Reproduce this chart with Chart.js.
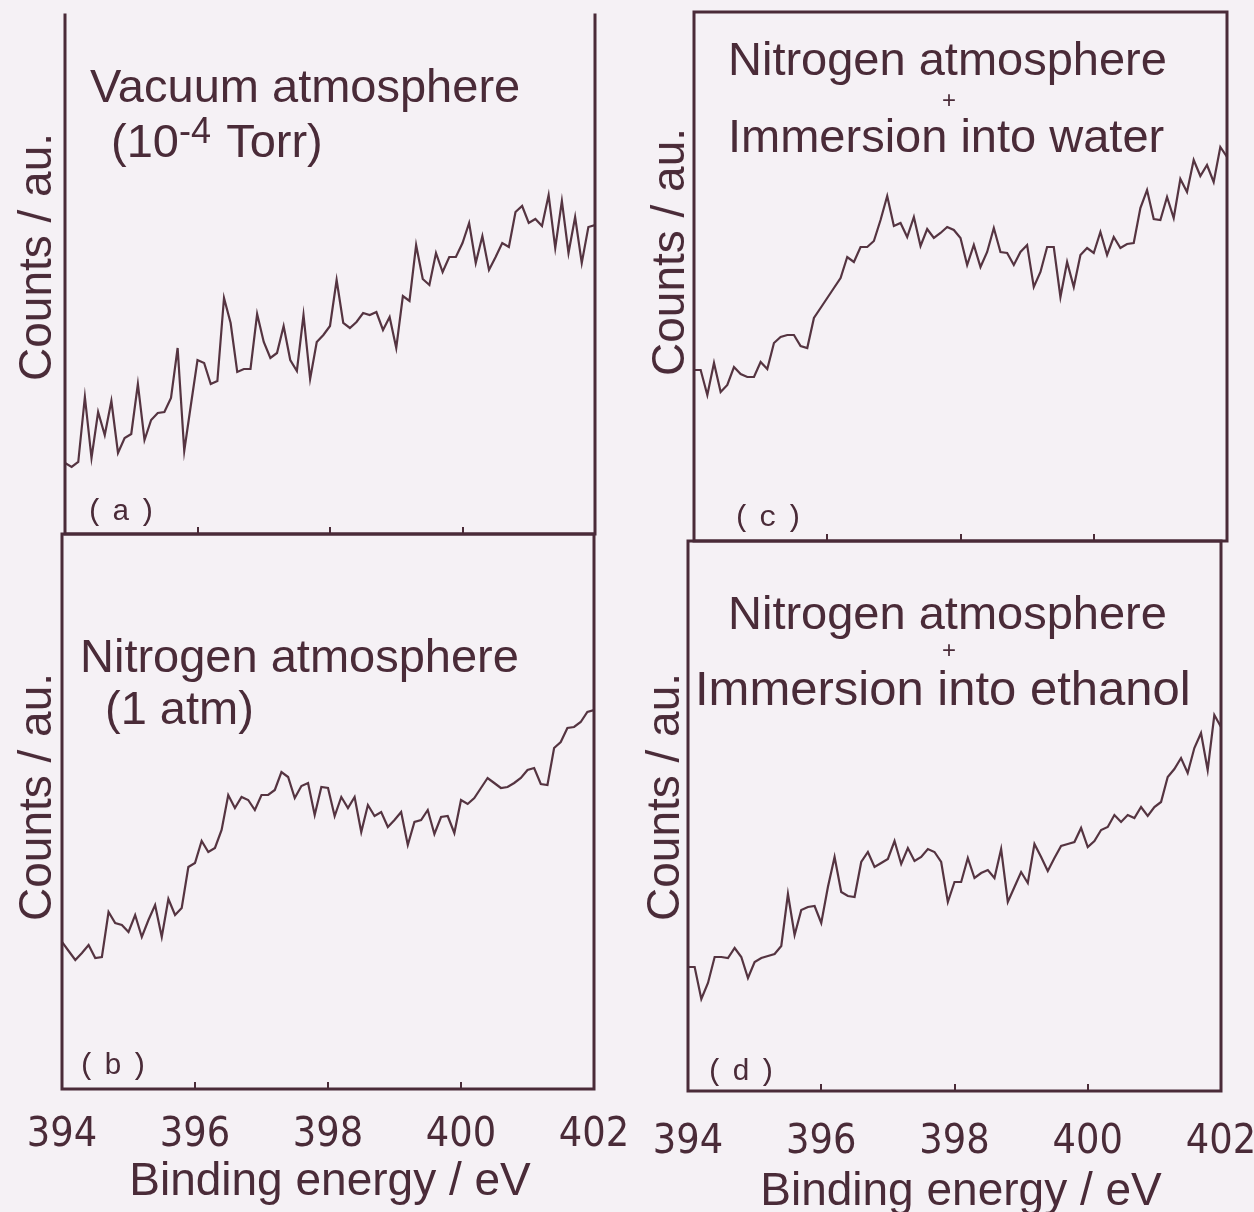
<!DOCTYPE html>
<html>
<head>
<meta charset="utf-8">
<title>N 1s spectra</title>
<script src="https://cdn.jsdelivr.net/npm/chart.js@4/dist/chart.umd.min.js"></script>
<style>
  html, body { margin: 0; padding: 0; background: #f5f1f5; }
  #page { position: relative; width: 1254px; height: 1212px; overflow: hidden; background: #f5f1f5; }
  #page canvas { position: absolute; left: 0; top: 0; }
  .t { position: absolute; white-space: nowrap; font-family: "Liberation Sans", Arial, sans-serif;
       font-size: 47px; line-height: 1; color: #4a2b38; }
  .sup { font-size: 36px; position: relative; top: -14px; margin-right: 3px; }
  .plus { font-size: 24px; }
  .ylab { transform: translate(-50%, -50%) rotate(-90deg); font-size: 46px; }
  .xlab { transform: translateX(-50%); font-size: 46px; }
  .tag { position: absolute; white-space: nowrap; font-family: "Liberation Mono", "DejaVu Sans Mono", monospace;
         font-size: 30px; line-height: 1; letter-spacing: 8px; color: #4a2b38; }
</style>
</head>
<body>
<div id="page">
  <canvas id="cA" width="1254" height="1212"></canvas>
  <canvas id="cB" width="1254" height="1212"></canvas>
  <canvas id="cC" width="1254" height="1212"></canvas>
  <canvas id="cD" width="1254" height="1212"></canvas>

  <div class="t" style="left:90px; top:62px;">Vacuum atmosphere</div>
  <div class="t" style="left:111px; top:117px;">(10<span class="sup">-4</span> Torr)</div>
  <div class="t" style="left:80px; top:632px;">Nitrogen atmosphere</div>
  <div class="t" style="left:105px; top:684px;">(1 atm)</div>
  <div class="t" style="left:728px; top:35px;">Nitrogen atmosphere</div>
  <div class="t plus" style="left:942px; top:88px;">+</div>
  <div class="t" style="left:728px; top:112px;">Immersion into water</div>
  <div class="t" style="left:728px; top:589px;">Nitrogen atmosphere</div>
  <div class="t plus" style="left:942px; top:638px;">+</div>
  <div class="t" style="left:695px; top:664px; font-size:49px;">Immersion into ethanol</div>

  <div class="t ylab" style="left:35px; top:257px;">Counts / au.</div>
  <div class="t ylab" style="left:35px; top:797px;">Counts / au.</div>
  <div class="t ylab" style="left:668px; top:252px;">Counts / au.</div>
  <div class="t ylab" style="left:663px; top:797px;">Counts / au.</div>

  <div class="t xlab" style="left:330px; top:1156px;">Binding energy / eV</div>
  <div class="t xlab" style="left:961px; top:1166px;">Binding energy / eV</div>

  <div class="tag" style="left:86px; top:497px;">(a)</div>
  <div class="tag" style="left:78px; top:1051px;">(b)</div>
  <div class="tag" style="left:733px; top:503px;">(c)</div>
  <div class="tag" style="left:706px; top:1057px;">(d)</div>
</div>

<script>
// Binding energy grid (eV), 0.1 eV steps
const energies = [
  394.0, 394.1, 394.2, 394.3, 394.4, 394.5, 394.6, 394.7, 394.8, 394.9,
  395.0, 395.1, 395.2, 395.3, 395.4, 395.5, 395.6, 395.7, 395.8, 395.9,
  396.0, 396.1, 396.2, 396.3, 396.4, 396.5, 396.6, 396.7, 396.8, 396.9,
  397.0, 397.1, 397.2, 397.3, 397.4, 397.5, 397.6, 397.7, 397.8, 397.9,
  398.0, 398.1, 398.2, 398.3, 398.4, 398.5, 398.6, 398.7, 398.8, 398.9,
  399.0, 399.1, 399.2, 399.3, 399.4, 399.5, 399.6, 399.7, 399.8, 399.9,
  400.0, 400.1, 400.2, 400.3, 400.4, 400.5, 400.6, 400.7, 400.8, 400.9,
  401.0, 401.1, 401.2, 401.3, 401.4, 401.5, 401.6, 401.7, 401.8, 401.9,
  402.0
];

const energyTicks = [394, 396, 398, 400, 402];

// (a) vacuum, 10^-4 Torr
const countsVacuum = [
  71, 67, 72, 137, 76, 122, 99, 133, 81, 96,
  100, 150, 94, 114, 121, 122, 136, 186, 83, 129,
  174, 171, 150, 153, 236, 211, 162, 165, 165, 220,
  192, 176, 181, 208, 174, 163, 219, 155, 192, 199,
  208, 254, 211, 206, 212, 221, 219, 222, 204, 217,
  186, 238, 233, 289, 255, 249, 281, 262, 277, 277,
  291, 311, 271, 298, 264, 277, 291, 287, 322, 328,
  311, 315, 308, 339, 286, 333, 281, 317, 271, 307,
  309
];

// (b) nitrogen, 1 atm
const countsNitrogen = [
  147, 138, 129, 136, 144, 131, 132, 177, 166, 164,
  157, 174, 152, 169, 184, 152, 190, 174, 181, 222,
  226, 248, 237, 241, 259, 294, 281, 292, 289, 279,
  294, 294, 299, 317, 312, 291, 303, 306, 274, 302,
  301, 273, 292, 281, 292, 257, 284, 273, 277, 262,
  269, 277, 244, 267, 269, 279, 255, 272, 273, 256,
  289, 285, 291, 301, 311, 306, 301, 302, 306, 311,
  319, 321, 305, 304, 341, 347, 361, 362, 367, 377,
  379
];

// (c) nitrogen + immersion into water
const countsWater = [
  171, 171, 146, 178, 149, 156, 174, 167, 164, 164,
  179, 172, 198, 204, 206, 206, 195, 193, 223, 233,
  243, 253, 263, 284, 279, 294, 294, 300, 321, 345,
  315, 318, 304, 324, 295, 312, 303, 308, 314, 311,
  303, 276, 296, 274, 289, 313, 289, 288, 276, 289,
  296, 254, 269, 294, 294, 244, 279, 254, 286, 293,
  288, 309, 286, 304, 293, 297, 298, 333, 351, 322,
  321, 344, 323, 362, 349, 381, 365, 376, 359, 394,
  384
];

// (d) nitrogen + immersion into ethanol
const countsEthanol = [
  124, 124, 92, 108, 134, 134, 133, 143, 134, 113,
  129, 133, 135, 137, 145, 197, 156, 181, 184, 185,
  168, 204, 234, 199, 195, 194, 229, 239, 224, 228,
  232, 250, 227, 243, 230, 234, 242, 239, 229, 189,
  209, 209, 233, 213, 218, 221, 213, 242, 189, 204,
  219, 208, 247, 234, 220, 233, 245, 247, 249, 263,
  244, 250, 261, 264, 276, 269, 276, 273, 284, 275,
  284, 289, 314, 322, 333, 318, 343, 358, 321, 376,
  364
];

const INK = '#4a2b38';
const LINE = '#553441';

// frame around the plot area, drawn side by side
const framePlugin = {
  id: 'frame',
  afterDatasetsDraw(chart, args, opts) {
    const { ctx, chartArea: a } = chart;
    ctx.save();
    ctx.strokeStyle = opts.color;
    ctx.lineWidth = opts.width;
    ctx.lineCap = 'square';
    ctx.beginPath();
    if (opts.sides.includes('t')) { ctx.moveTo(a.left, a.top); ctx.lineTo(a.right, a.top); }
    if (opts.sides.includes('b')) { ctx.moveTo(a.left, a.bottom); ctx.lineTo(a.right, a.bottom); }
    if (opts.sides.includes('l')) { ctx.moveTo(a.left, a.top); ctx.lineTo(a.left, a.bottom); }
    if (opts.sides.includes('r')) { ctx.moveTo(a.right, a.top); ctx.lineTo(a.right, a.bottom); }
    ctx.stroke();
    ctx.restore();
  }
};

const W = 1254, H = 1212;
const AXIS_H = 100;

function makePanel(id, counts, box) {
  const points = energies.map((e, i) => ({ x: e, y: counts[i] }));
  const axisH = box.labels ? AXIS_H : 0;
  return new Chart(document.getElementById(id), {
    type: 'line',
    data: {
      datasets: [{
        data: points,
        borderColor: LINE,
        borderWidth: 2.2,
        pointRadius: 0,
        tension: 0,
        fill: false
      }]
    },
    options: {
      responsive: false,
      animation: false,
      devicePixelRatio: 1,
      events: [],
      layout: {
        autoPadding: false,
        padding: { left: box.left, top: box.top, right: W - box.right, bottom: H - box.bottom - axisH }
      },
      plugins: {
        legend: { display: false },
        tooltip: { enabled: false },
        frame: { color: INK, width: 3, sides: box.sides }
      },
      scales: {
        x: {
          type: 'linear',
          min: 394,
          max: 402,
          afterBuildTicks(scale) { scale.ticks = energyTicks.map(v => ({ value: v })); },
          afterFit(scale) {
            scale.height = axisH;
            scale.paddingLeft = 0;
            scale.paddingRight = 0;
          },
          border: { display: false },
          grid: { drawOnChartArea: false, drawTicks: true, tickLength: -7, color: INK, lineWidth: 2 },
          ticks: {
            display: box.labels,
            maxRotation: 0,
            autoSkip: false,
            padding: box.tickPad,
            color: INK,
            font: { family: '"Liberation Sans Narrow", "DejaVu Sans Condensed", "Liberation Sans", sans-serif', size: 41 },
            callback: (v) => String(v)
          }
        },
        y: {
          display: false,
          min: 0,
          max: box.ymax
        }
      }
    },
    plugins: [framePlugin]
  });
}

makePanel('cA', countsVacuum,   { left: 65,  right: 595,  top: 15,  bottom: 534,  ymax: 519, sides: 'lrb',  labels: false, tickPad: 0 });
makePanel('cB', countsNitrogen, { left: 62,  right: 594,  top: 534, bottom: 1089, ymax: 555, sides: 'lrbt', labels: true,  tickPad: 29 });
makePanel('cC', countsWater,    { left: 694, right: 1227, top: 12,  bottom: 541,  ymax: 529, sides: 'lrbt', labels: false, tickPad: 0 });
makePanel('cD', countsEthanol,  { left: 688, right: 1221, top: 541, bottom: 1091, ymax: 550, sides: 'lrbt', labels: true,  tickPad: 34 });
</script>
</body>
</html>
